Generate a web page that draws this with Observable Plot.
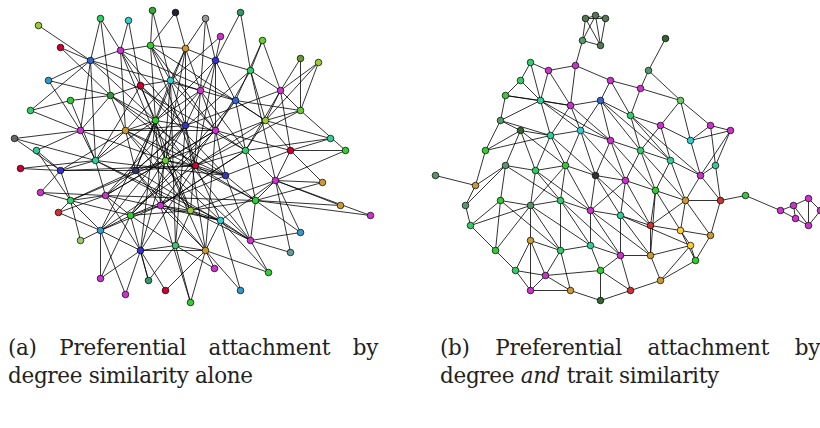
<!DOCTYPE html>
<html>
<head>
<meta charset="utf-8">
<script src="https://cdn.jsdelivr.net/npm/d3@7"></script>
<script src="https://cdn.jsdelivr.net/npm/@observablehq/plot@0.6"></script>
<style>
  body { margin: 0; background: #fff; width: 820px; height: 428px; position: relative; overflow: hidden; }
  .cap { position: absolute; top: 334px; font-family: "DejaVu Serif", serif; font-size: 21.5px; line-height: 28px; color: #222; white-space: nowrap; letter-spacing: -0.3px; }
  .cap span { display: block; text-align: justify; text-align-last: justify; }
</style>
</head>
<body>
<div id="chart"></div>
<div class="cap" style="left:8px;width:370px"><span>(a) Preferential attachment by</span>degree similarity alone</div>
<div class="cap" style="left:440px;width:380px"><span>(b) Preferential attachment by</span>degree <i>and</i> trait similarity</div>
<script>
// panel (a) nodes, pixel positions
const aX = [38,60,100,128,152,175,205,240,220,262,300,318,330,345,322,340,370,300,290,268,240,214,190,165,148,125,100,80,58,40,20,14,36,30,48,70,
  90,120,150,185,215,250,280,300,80,110,140,170,200,235,265,290,60,95,125,155,185,215,245,275,70,105,135,165,195,225,255,100,130,160,190,220,250,140,175,205]
const aY = [25,47,18,20,10,12,18,12,36,40,58,62,138,150,182,205,215,232,252,272,290,268,302,290,280,294,278,240,212,192,168,138,150,110,80,100,
  60,50,45,48,60,70,90,110,130,95,85,80,90,100,120,150,170,160,130,120,125,130,150,180,200,195,170,160,165,175,200,230,215,205,210,220,240,250,245,250]
const aC = ["#9c3","#c03","#3c6","#3cc","#3a3","#223","#999","#396","#c3c","#6c3","#693","#9c3","#3c9","#3c3","#c93","#c93","#c3c","#39c","#699","#3c3","#39c","#c3c","#3c3","#c03","#396","#c3c","#c3c","#9c6","#c33","#c3c","#c03","#666","#3c9","#3c6","#39c","#3c3",
  "#36c","#c3c","#3c3","#c93","#33c","#3c6","#c3c","#6c3","#c3c","#393","#c03","#3cc","#c3c","#36c","#9c3","#c03","#33c","#3c9","#c93","#3c3","#33c","#c3c","#3c6","#c3c","#3c6","#c3c","#336","#6c3","#c03","#33c","#3c3","#39c","#3c3","#c3c","#9c3","#3cc","#c3c","#33c","#3c6","#c93"]
const aEdges = "0-36 1-36 1-45 2-37 2-45 3-37 3-46 4-38 4-47 5-39 5-38 6-39 6-48 7-40 7-41 8-40 8-47 9-41 9-49 10-42 10-43 11-43 11-42 12-50 12-51 13-51 13-43 14-59 14-51 15-59 15-66 16-59 17-66 17-72 18-72 18-59 19-72 19-71 20-75 20-71 21-75 21-74 22-74 22-69 23-73 23-75 24-73 24-68 25-73 25-67 26-67 26-68 27-60 27-67 28-60 28-61 29-52 29-60 30-52 31-44 31-53 32-44 32-52 33-44 33-35 34-36 34-45 35-53 35-45 36-37 36-44 37-38 37-46 38-39 38-47 39-40 39-48 40-41 40-49 41-42 41-50 42-43 42-51 43-50 44-45 44-53 45-46 45-54 46-47 46-55 47-48 47-56 48-49 48-57 49-50 49-58 50-51 50-58 51-59 52-53 52-60 53-54 53-61 54-55 54-62 55-56 55-63 56-57 56-64 57-58 57-65 58-59 58-66 59-66 60-61 60-67 61-62 61-68 62-63 62-69 63-64 63-70 64-65 64-71 65-66 65-72 66-72 67-68 67-73 68-69 68-74 69-70 69-75 70-71 70-74 71-72 71-75 73-74 74-75 36-55 37-56 38-57 39-63 40-64 44-63 45-64 46-65 47-62 48-70 49-69 53-70 54-71 55-72 56-68 57-61 62-75 63-73 64-67 65-54 66-70 41-57 42-58 52-62 60-68 61-73 43-49 50-64 51-65 59-71 46-53 47-54 48-55 39-47 40-56 55-69 56-62 57-63 58-64 " +
  "36-58 37-63 38-64 39-62 40-55 41-62 42-56 43-64 44-57 45-65 46-70 47-69 48-61 49-68 50-63 51-57 52-64 53-65 54-66 55-67 56-74 57-75 58-69 59-70 60-63 61-71 62-72 63-75 64-73 65-68 66-61 67-56 68-57 69-58 70-54 71-53 72-63 73-55 74-47 75-56 " +
  "36-48 37-49 38-50 39-56 40-57 41-59 42-50 44-54 45-55 46-56 47-57 48-58 52-54 53-55 54-56 60-62 61-63 62-64 63-65 64-66 67-69 68-70 69-71 70-72 73-75 36-53 37-54 38-55 12-58 13-59 14-66 30-53 31-52 32-60 33-36 34-44 2-36 6-40 9-42 11-50 16-66 17-59 19-75 22-75 24-74 26-73 28-67 29-61"

// panel (b) nodes
const bX = [585,595,605,582,600,665,648,530,548,575,610,640,680,710,730,715,720,710,695,660,630,600,570,530,515,495,470,465,475,485,500,505,520,435,780,793,808,820,808,795,745,
  540,570,600,630,660,690,520,550,580,610,640,670,700,505,535,565,595,625,655,685,500,530,560,590,620,650,680,530,560,590,620,650,690,545,600]
const bY = [18,15,18,40,45,38,70,62,70,65,80,88,100,125,130,165,200,235,260,280,290,300,290,290,270,250,225,205,185,150,120,95,80,175,210,205,198,210,225,218,195,
  100,105,100,115,125,140,130,135,130,140,150,160,175,165,170,165,175,180,190,200,200,205,200,210,215,225,230,240,250,245,255,255,245,275,270]
const bC = ["#575","#575","#575","#596","#575","#363","#596","#3c6","#c3c","#c3c","#c3c","#c3c","#6c6","#c3c","#c3c","#3c9","#c33","#c93","#3c3","#c93","#c33","#363","#c93","#c3c","#3c6","#3c3","#3c6","#596","#c93","#3c3","#596","#3c3","#3c6","#596","#c3c","#c3c","#c3c","#c3c","#c3c","#c3c","#3c3",
  "#3c9","#c3c","#36c","#3c6","#c3c","#3cc","#363","#3c9","#3cc","#c3c","#3c6","#3c9","#c3c","#596","#3c6","#3c3","#333","#c3c","#3c3","#c93","#3c3","#596","#3c6","#c3c","#3c9","#c33","#fc3","#c93","#3c6","#3c9","#c3c","#c93","#fc3","#c3c","#3c3"]
const bEdges = "0-1 1-2 0-2 0-3 1-3 2-4 1-4 3-4 0-4 3-9 5-6 6-11 6-12 7-8 8-9 9-10 10-11 11-12 12-13 13-14 14-15 15-16 16-17 17-18 18-19 19-20 20-21 21-22 22-23 23-24 24-25 25-26 26-27 27-28 28-29 29-30 30-31 31-32 32-7 33-28 16-40 40-34 34-35 35-36 36-37 37-38 38-39 39-34 35-39 36-38 35-38 7-41 8-41 9-42 10-43 11-44 12-45 13-46 14-46 15-53 16-53 17-60 18-73 19-72 20-75 21-75 22-74 23-74 24-68 25-61 26-61 27-54 28-54 29-47 30-47 31-41 32-41 41-42 42-43 43-44 44-45 45-46 47-48 48-49 49-50 50-51 51-52 52-53 54-55 55-56 56-57 57-58 58-59 59-60 61-62 62-63 63-64 64-65 65-66 66-67 68-69 69-70 70-71 71-72 72-73 74-75 41-48 42-49 43-50 44-51 45-52 46-53 47-54 48-55 49-56 50-57 51-58 52-59 53-60 54-61 55-62 56-63 57-64 58-65 59-66 60-67 62-68 63-69 64-70 65-71 66-72 67-73 68-74 70-75 71-75 41-49 42-50 43-51 44-52 47-55 48-56 49-57 50-58 51-59 52-60 55-63 56-64 57-65 58-66 59-67 62-69 63-70 64-71 65-72 69-74 42-48 43-49 45-51 56-62 58-64 60-66 13-15 12-46 17-67 16-60 18-67 30-48 31-42 24-74 19-73 " +
  "41-50 43-52 47-56 49-58 51-60 54-63 55-64 57-66 59-72 61-69 62-70 63-71 64-72 65-73 48-57 50-59 44-53 8-42 10-44 14-53 20-71 22-69 23-68 25-62 26-62 29-48 30-41"

function nodes(xs, ys, cs) {
  return xs.map((x, i) => ({x, y: ys[i], c: cs[i]}))
}
function links(ns, str) {
  return str.split(" ").map(e => {
    const [s, t] = e.split("-").map(Number)
    return {x1: ns[s].x, y1: ns[s].y, x2: ns[t].x, y2: ns[t].y}
  })
}
const nodesA = nodes(aX, aY, aC)
const nodesB = nodes(bX, bY, bC)
const linksAll = links(nodesA, aEdges).concat(links(nodesB, bEdges))
const nodesAll = nodesA.concat(nodesB)

let chart = Plot.plot({
  width: 820,
  height: 320,
  margin: 0,
  x: {domain: [0, 820], axis: null},
  y: {domain: [0, 320], reverse: true, axis: null},
  marks: [
    Plot.link(linksAll, {x1: "x1", y1: "y1", x2: "x2", y2: "y2", stroke: "#000", strokeWidth: 0.8}),
    Plot.dot(nodesAll, {x: "x", y: "y", r: 3.3, fill: "c", stroke: "#000", strokeWidth: 0.7})
  ]
})
d3.select('#chart').append(() => chart)
</script>
</body>
</html>
